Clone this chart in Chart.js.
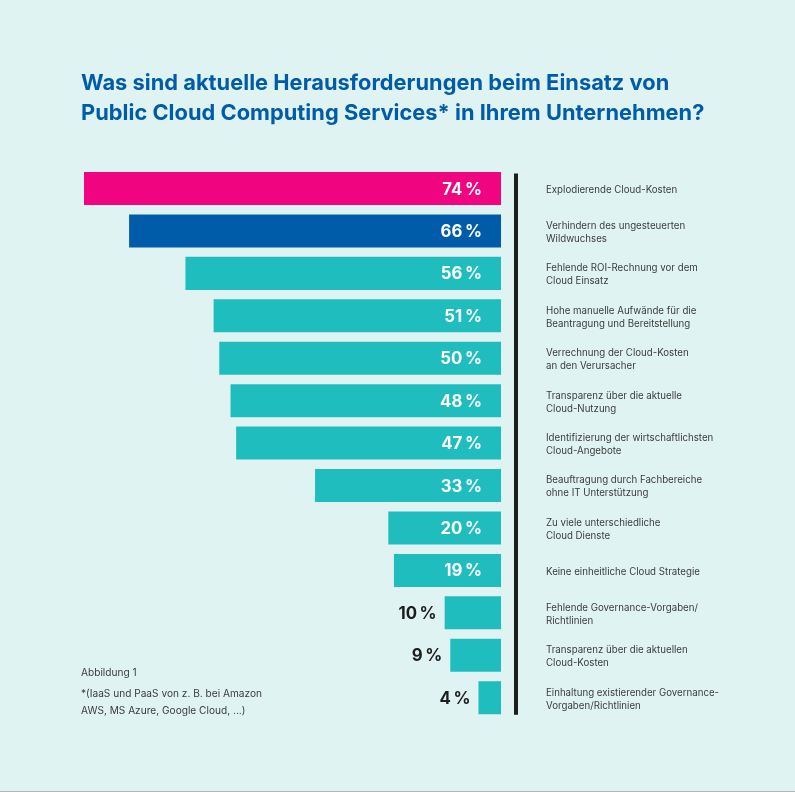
<!DOCTYPE html>
<html lang="de">
<head>
<meta charset="utf-8">
<title>Herausforderungen Public Cloud</title>
<script src="https://cdn.jsdelivr.net/npm/chart.js@4/dist/chart.umd.min.js"></script>
<style>
    html, body { margin: 0; padding: 0; background: #E0F3F3; }
    #pagina { position: relative; width: 795px; height: 792px; overflow: hidden; background: #E0F3F3; border-bottom: 1px solid #b5b5b5; box-sizing: border-box; }
    #grafico { position: absolute; left: 0; top: 0; }
    h1 { position: absolute; left: 81px; top: 67px; margin: 0; font: 700 21.8px/30px Inter, sans-serif; letter-spacing: 0.03px; color: #005CA9; white-space: nowrap; }
    .nota { position: absolute; left: 81px; font: 400 10.15px/14px Inter, sans-serif; color: #3c3c3b; white-space: nowrap; }
</style>
</head>
<body>
<div id="pagina">
    <canvas id="grafico" width="795" height="792"></canvas>
    <h1>Was sind aktuelle Herausforderungen beim Einsatz von<br>Public Cloud Computing Services* in Ihrem Unternehmen?</h1>
    <div class="nota" style="top:665px">Abbildung 1</div>
    <div class="nota" style="top:685.5px">*(IaaS und PaaS von z. B. bei Amazon</div>
    <div class="nota" style="top:703px">AWS, MS Azure, Google Cloud, ...)</div>
</div>
<script>
const categorias = [
    ["Explodierende Cloud-Kosten"],
    ["Verhindern des ungesteuerten", "Wildwuchses"],
    ["Fehlende ROI-Rechnung vor dem", "Cloud Einsatz"],
    ["Hohe manuelle Aufwände für die", "Beantragung und Bereitstellung"],
    ["Verrechnung der Cloud-Kosten", "an den Verursacher"],
    ["Transparenz über die aktuelle", "Cloud-Nutzung"],
    ["Identifizierung der wirtschaftlichsten", "Cloud-Angebote"],
    ["Beauftragung durch Fachbereiche", "ohne IT Unterstützung"],
    ["Zu viele unterschiedliche", "Cloud Dienste"],
    ["Keine einheitliche Cloud Strategie"],
    ["Fehlende Governance-Vorgaben/", "Richtlinien"],
    ["Transparenz über die aktuellen", "Cloud-Kosten"],
    ["Einhaltung existierender Governance-", "Vorgaben/Richtlinien"]
];
const valores = [74, 66, 56, 51, 50, 48, 47, 33, 20, 19, 10, 9, 4];
const cores = ["#F0047F", "#005CA9", "#20BDBE", "#20BDBE", "#20BDBE", "#20BDBE", "#20BDBE", "#20BDBE", "#20BDBE", "#20BDBE", "#20BDBE", "#20BDBE", "#20BDBE"];

// rotulos de valor: dentro da barra (branco) ou fora quando a barra e pequena
const pluginRotulos = {
    id: "rotulos",
    afterDatasetsDraw(chart) {
        const ctx = chart.ctx;
        ctx.save();
        ctx.font = "700 16.8px Inter, sans-serif";
        ctx.textBaseline = "middle";
        ctx.textAlign = "right";
        chart.getDatasetMeta(0).data.forEach(function (barra, i) {
            const dentro = valores[i] > 10;
            ctx.fillStyle = dentro ? "#ffffff" : "#1D1D1B";
            const x = dentro ? barra.base - 19 : barra.x - 8;
            ctx.fillText(valores[i] + "\u2009%", x, barra.y + 1);
        });
        ctx.restore();
    }
};

// linha vertical preta entre as barras e os textos
const pluginLinha = {
    id: "linha",
    afterDraw(chart) {
        const barras = chart.getDatasetMeta(0).data;
        const x = chart.chartArea.right;
        const ctx = chart.ctx;
        ctx.save();
        ctx.strokeStyle = "#1D1D1B";
        ctx.lineWidth = 4;
        ctx.beginPath();
        ctx.moveTo(x, barras[0].y - 15);
        ctx.lineTo(x, barras[barras.length - 1].y + 17);
        ctx.stroke();
        ctx.restore();
    }
};

new Chart(document.getElementById("grafico"), {
    type: "bar",
    data: {
        labels: categorias,
        datasets: [{
            data: valores,
            backgroundColor: cores,
            borderWidth: 0,
            barPercentage: 0.778,
            categoryPercentage: 1
        }]
    },
    options: {
        indexAxis: "y",
        responsive: false,
        animation: false,
        events: [],
        layout: { padding: { left: 84, top: 167.3, bottom: 73.1, right: 0 } },
        plugins: { legend: { display: false }, tooltip: { enabled: false } },
        scales: {
            x: { display: false, reverse: true, min: -2.66, max: 74 },
            y: {
                position: "right",
                grid: { display: false, drawTicks: false },
                border: { display: false },
                afterFit(escala) { escala.width = 279; },
                ticks: {
                    padding: 30,
                    autoSkip: false,
                    labelOffset: 1.5,
                    color: "#3c3c3b",
                    font: { family: "Inter, sans-serif", size: 9.7, lineHeight: 1.34 }
                }
            }
        }
    },
    plugins: [pluginRotulos, pluginLinha]
});
</script>
</body>
</html>
